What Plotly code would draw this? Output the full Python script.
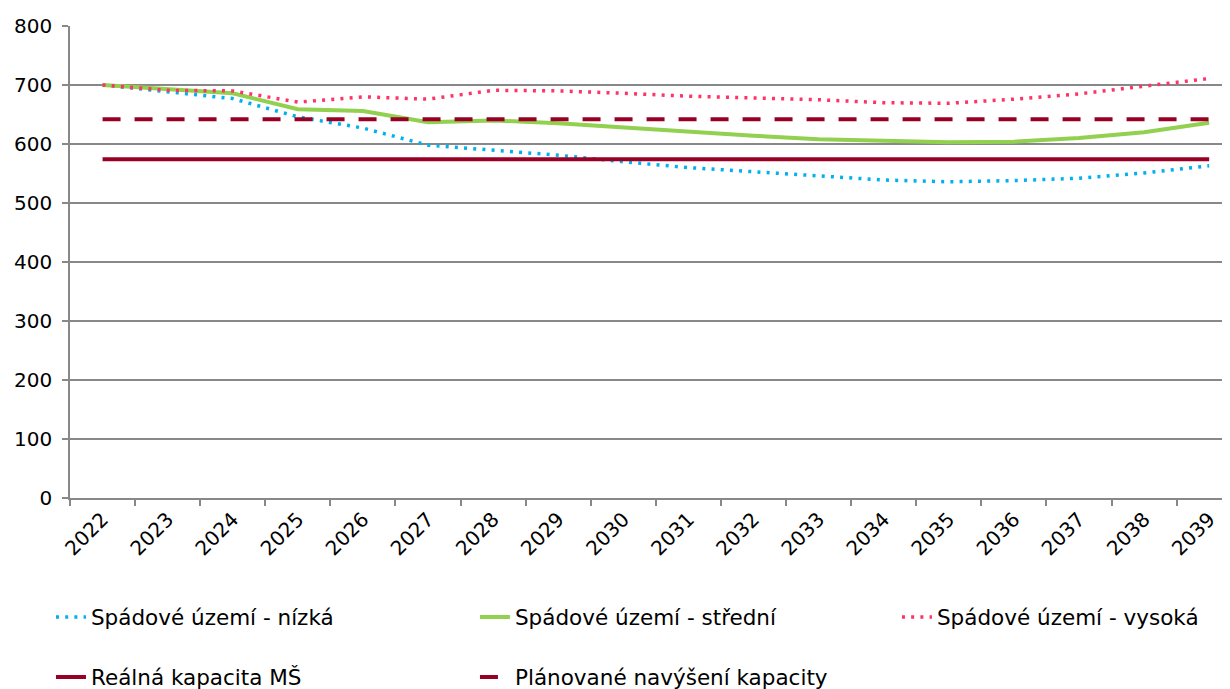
import plotly.graph_objects as go

years = [str(y) for y in range(2022, 2040)]
nizka = [700, 689, 677, 646, 627, 598, 589, 581, 570, 560, 553, 546, 539, 536, 538, 542, 551, 563]
stredni = [700, 693, 686, 659, 656, 637, 640, 635, 628, 620, 614, 608, 605, 603, 604, 610, 620, 636]
vysoka = [700, 691, 690, 671, 680, 676, 691, 690, 686, 681, 678, 675, 670, 669, 676, 685, 698, 711]
realna = [574] * 18
planovane = [642] * 18

names = ["Spádové území - nízká", "Spádové území - střední", "Spádové území - vysoká",
         "Reálná kapacita MŠ", "Plánované navýšení kapacity"]

FONT = "DejaVu Sans"
fig = go.Figure()
fig.add_trace(go.Scatter(x=years, y=nizka, name=names[0], mode="lines",
                         line=dict(color="#00B0F0", width=3.5, dash="3px,6.2px"), legend="legend"))
fig.add_trace(go.Scatter(x=years, y=stredni, name=names[1], mode="lines",
                         line=dict(color="#92D050", width=4), legend="legend2"))
fig.add_trace(go.Scatter(x=years, y=vysoka, name=names[2], mode="lines",
                         line=dict(color="#FF3366", width=3.5, dash="3px,6.2px"), legend="legend3"))
fig.add_trace(go.Scatter(x=years, y=realna, name=names[3], mode="lines",
                         line=dict(color="#990026", width=4), legend="legend4"))
fig.add_trace(go.Scatter(x=years, y=planovane, name=names[4], mode="lines",
                         line=dict(color="#990026", width=4, dash="18px,14px"), legend="legend5"))

def leg(x, y):
    return dict(orientation="h", x=x, y=y, xanchor="left", yanchor="middle",
                font=dict(size=21.5), bgcolor="rgba(0,0,0,0)")

fig.update_layout(
    width=1222, height=681,
    margin=dict(l=62, r=0, t=18, b=191, autoexpand=False),
    paper_bgcolor="white", plot_bgcolor="white",
    font=dict(family=FONT, size=20, color="#000000"),
    xaxis=dict(type="category", range=[-0.5, 17.32], tickson="boundaries",
               ticks="outside", ticklen=6, tickcolor="#888888", tickwidth=1.5,
               showgrid=False, showline=True, linecolor="#888888", linewidth=1.5,
               tickangle=-45, tickfont=dict(size=20)),
    yaxis=dict(range=[0, 800], dtick=100, ticks="outside", ticklen=6,
               tickcolor="#888888", tickwidth=1.5, showgrid=True, gridcolor="#888888",
               gridwidth=1.5, showline=True, linecolor="#888888", linewidth=1.5,
               zeroline=False, tickfont=dict(size=20), ticklabelstandoff=6),
    legend=leg(-0.0164, -0.2521),
    legend2=leg(0.3491, -0.2521),
    legend3=leg(0.7129, -0.2521),
    legend4=leg(-0.0164, -0.3792),
    legend5=leg(0.3491, -0.3792),
    showlegend=True,
)

fig.write_html("out.html")
